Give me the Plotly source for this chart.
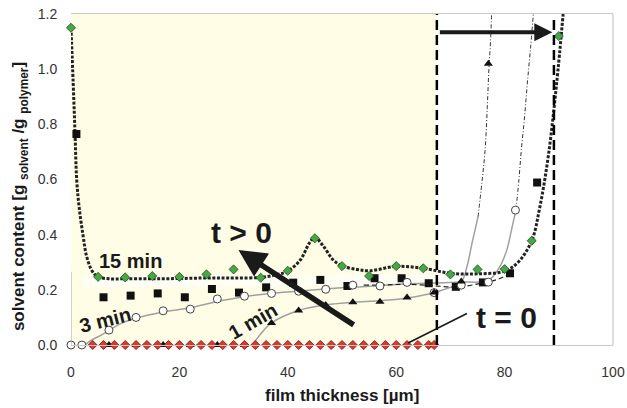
import plotly.graph_objects as go

# ---------------- data ----------------
# t = 0 : red diamonds on the baseline
x_t0 = [4, 6, 8, 10, 12, 14, 16, 18, 20, 22, 24, 26, 28, 30, 32, 34, 36, 38, 40,
        42, 44, 46, 48, 50, 52, 54, 56, 58, 60, 62, 64, 66, 67]
y_t0 = [0, 0, 0, 0, 0, 0, 0, 0, 0, 0, 0, 0, 0, 0, 0, 0, 0, 0, 0,
        0, 0, 0, 0, 0, 0, 0, 0, 0, 0, 0, 0, 0, 0]

# 1 min : black triangles
x_1min = [7, 12, 17, 22, 27, 32, 37, 42, 47, 52, 57, 62, 67, 72, 77]
y_1min = [0, 0, 0, 0, 0, 0, 0.08, 0.125, 0.145, 0.155, 0.157, 0.172, 0.19, 0.23, 1.02]

# 3 min : open circles
x_3min = [0, 2, 7, 12, 17, 22, 27, 32, 37, 42, 47, 52, 57, 62, 67, 72, 77, 82]
y_3min = [0, 0, 0.054, 0.1, 0.124, 0.13, 0.167, 0.177, 0.187, 0.195, 0.202, 0.217,
          0.214, 0.227, 0.19, 0.217, 0.228, 0.489]

# intermediate time : black squares
x_sq = [1, 6, 11, 16, 21, 26, 31, 36, 41, 46, 51, 56, 61, 66, 71, 76, 81, 86]
y_sq = [0.765, 0.173, 0.179, 0.187, 0.173, 0.203, 0.19, 0.209, 0.226, 0.236, 0.214,
        0.242, 0.242, 0.224, 0.211, 0.227, 0.26, 0.589]

# 15 min : green diamonds
x_15min = [0, 5, 10, 15, 20, 25, 30, 35, 40, 45, 50, 55, 60, 65, 70, 75, 80, 85, 90]
y_15min = [1.15, 0.247, 0.245, 0.25, 0.247, 0.256, 0.274, 0.244, 0.269, 0.387, 0.286,
           0.25, 0.286, 0.278, 0.256, 0.274, 0.275, 0.378, 1.12]

# fitted curves
fit15_x = [0, 0.4, 0.74, 1.05, 1.5, 2.2, 2.9, 4, 5, 7, 10, 15, 20, 25, 30, 35, 38, 40,
           42.3, 44, 45, 46.5, 48.4, 50.1, 52.7, 55.1, 60, 65, 70, 75, 80, 82.5, 85,
           86.5, 88.1, 89.6, 90.8]
fit15_y = [1.15, 0.95, 0.77, 0.6, 0.5, 0.4, 0.32, 0.265, 0.247, 0.24, 0.24, 0.24, 0.241,
           0.243, 0.243, 0.245, 0.255, 0.268, 0.308, 0.37, 0.39, 0.36, 0.308, 0.286,
           0.274, 0.269, 0.285, 0.278, 0.26, 0.258, 0.268, 0.3, 0.378, 0.5, 0.69, 0.948, 1.2]

fit3_x = [2.5, 4, 5.5, 7, 9.5, 12, 17, 22, 27, 32, 37, 42, 47, 52, 57, 62, 67, 72, 77,
          79, 80.4, 81.3, 82.1]
fit3_y = [0, 0.02, 0.035, 0.053, 0.08, 0.098, 0.12, 0.135, 0.158, 0.175, 0.188, 0.195,
          0.203, 0.21, 0.215, 0.222, 0.225, 0.228, 0.235, 0.28, 0.344, 0.42, 0.49]
fit3_up_x = [82.1, 82.6, 83.1, 83.7, 84.2, 84.8, 85.3]
fit3_up_y = [0.49, 0.59, 0.71, 0.83, 0.95, 1.08, 1.2]

fit1_x = [33.5, 35, 37, 42, 47, 52, 57, 62, 67, 72, 73, 74, 75.1]
fit1_y = [0, 0.04, 0.08, 0.125, 0.145, 0.155, 0.16, 0.17, 0.19, 0.23, 0.28, 0.37, 0.465]
fit1_up_x = [75.1, 75.8, 76.4, 76.8, 77.1, 77.4, 77.6]
fit1_up_y = [0.465, 0.587, 0.707, 0.86, 1.0, 1.1, 1.2]

fitsq_x = [54, 58, 62, 67, 71, 76, 79, 81]
fitsq_y = [0.217, 0.218, 0.22, 0.215, 0.21, 0.225, 0.24, 0.26]

band_x = [2, 10, 20, 30, 40, 50, 60, 67]
band_y = [0.228, 0.23, 0.23, 0.232, 0.235, 0.235, 0.235, 0.235]

x_ticks = [0, 20, 40, 60, 80, 100]
y_ticks = [0.0, 0.2, 0.4, 0.6, 0.8, 1.0, 1.2]
y_ticklabels = ["0.0", "0.2", "0.4", "0.6", "0.8", "1.0", "1.2"]

# film boundaries (dashed) and shaded region
x_film_t0 = 67.5
x_film_t = 89.1

FONT = "Arial, Liberation Sans, sans-serif"
INK = "#1a1a1a"

fig = go.Figure()

# whitish band behind the curves
fig.add_trace(go.Scatter(x=band_x, y=band_y, mode="lines",
                         line=dict(color="rgba(255,255,255,0.55)", width=11),
                         hoverinfo="skip", showlegend=False))

# fits
fig.add_trace(go.Scatter(x=fit3_x, y=fit3_y, mode="lines",
                         line=dict(color="#a0a0a0", width=1.5, shape="spline"),
                         hoverinfo="skip", showlegend=False))
fig.add_trace(go.Scatter(x=fit3_up_x, y=fit3_up_y, mode="lines",
                         line=dict(color="#333333", width=1, dash="4px,2px,1px,2px", shape="spline"),
                         hoverinfo="skip", showlegend=False))
fig.add_trace(go.Scatter(x=fit1_x, y=fit1_y, mode="lines",
                         line=dict(color="#a0a0a0", width=1.5, shape="spline"),
                         hoverinfo="skip", showlegend=False))
fig.add_trace(go.Scatter(x=fit1_up_x, y=fit1_up_y, mode="lines",
                         line=dict(color="#333333", width=1, dash="4px,2px,1px,2px", shape="spline"),
                         hoverinfo="skip", showlegend=False))
fig.add_trace(go.Scatter(x=fitsq_x, y=fitsq_y, mode="lines",
                         line=dict(color="#222222", width=1.2, dash="5px,3px", shape="spline"),
                         hoverinfo="skip", showlegend=False))
fig.add_trace(go.Scatter(x=fit15_x, y=fit15_y, mode="lines",
                         line=dict(color="#222222", width=3, dash="3px,1.6px", shape="spline"),
                         hoverinfo="skip", showlegend=False))

# markers
fig.add_trace(go.Scatter(x=x_sq, y=y_sq, mode="markers", name="squares",
                         marker=dict(symbol="square", size=8, color="#111111"),
                         cliponaxis=False, showlegend=False))
fig.add_trace(go.Scatter(x=x_3min, y=y_3min, mode="markers", name="3 min",
                         marker=dict(symbol="circle", size=8, color="white",
                                     line=dict(color="#444444", width=1)),
                         cliponaxis=False, showlegend=False))
fig.add_trace(go.Scatter(x=x_1min, y=y_1min, mode="markers", name="1 min",
                         marker=dict(symbol="triangle-up", size=8, color="#111111"),
                         cliponaxis=False, showlegend=False))
fig.add_trace(go.Scatter(x=x_15min, y=y_15min, mode="markers", name="15 min",
                         marker=dict(symbol="diamond", size=7, color="#45a845",
                                     line=dict(color="#1f4f1f", width=0.8)),
                         cliponaxis=False, showlegend=False))
fig.add_trace(go.Scatter(x=x_t0, y=y_t0, mode="markers", name="t = 0",
                         marker=dict(symbol="diamond", size=7, color="#e5352b",
                                     line=dict(color="#6a1810", width=0.8)),
                         cliponaxis=False, showlegend=False))

shapes = [
    # shaded film region
    dict(type="rect", xref="x", yref="y", x0=0, x1=x_film_t0, y0=0, y1=1.2,
         fillcolor="rgb(255,253,230)", line=dict(width=0), layer="below"),
    # frame right and short left segment
    dict(type="line", xref="paper", yref="paper", x0=1, x1=1, y0=0, y1=1,
         line=dict(color="#c8c8c8", width=1.2)),
    dict(type="line", xref="x", yref="y", x0=0, x1=0, y0=0, y1=0.265,
         line=dict(color="#a8a8a8", width=1)),
    # dashed film boundaries
    dict(type="line", xref="x", yref="y", x0=x_film_t0, x1=x_film_t0, y0=0, y1=1.2,
         line=dict(color="black", width=2.5, dash="10px,5px"), layer="above"),
    dict(type="line", xref="x", yref="y", x0=x_film_t, x1=x_film_t, y0=0, y1=1.19,
         line=dict(color="black", width=2.5, dash="10px,5px"), layer="above"),
]

annotations = [
    # horizontal arrow (film growth)
    dict(x=88.8, y=1.134, ax=x_film_t0, ay=1.134, xref="x", yref="y", axref="x", ayref="y",
         showarrow=True, arrowhead=2, arrowsize=0.9, arrowwidth=4, arrowcolor=INK, text=" "),
    # diagonal arrow t > 0
    dict(x=30.9, y=0.344, ax=52.7, ay=0.066, xref="x", yref="y", axref="x", ayref="y",
         showarrow=True, arrowhead=2, arrowsize=1.0, arrowwidth=5.5, arrowcolor=INK, text=" "),
    # pointer line for t = 0
    dict(x=62.2, y=0.007, ax=73.6, ay=0.12, xref="x", yref="y", axref="x", ayref="y",
         showarrow=True, arrowhead=0, arrowwidth=1.6, arrowcolor=INK, text=" "),
    dict(x=31.4, y=0.409, xref="x", yref="y", text="<b>t &gt; 0</b>", showarrow=False,
         font=dict(family=FONT, size=30, color=INK)),
    dict(x=80.3, y=0.098, xref="x", yref="y", text="<b>t = 0</b>", showarrow=False,
         font=dict(family=FONT, size=30, color=INK)),
    dict(x=10.9, y=0.304, xref="x", yref="y", text="<b>15 min</b>", showarrow=False,
         font=dict(family=FONT, size=20, color=INK)),
    dict(x=6.2, y=0.092, xref="x", yref="y", text="<b>3 min</b>", showarrow=False,
         textangle=-14, font=dict(family=FONT, size=20, color=INK)),
    dict(x=33.6, y=0.086, xref="x", yref="y", text="<b>1 min</b>", showarrow=False,
         textangle=-30, font=dict(family=FONT, size=20, color=INK)),
    # axis titles
    dict(x=-0.094, y=0.447, xref="paper", yref="paper", showarrow=False, textangle=-90,
         text="<b>solvent content [g <sub>solvent</sub> /g <sub>polymer</sub>]</b>",
         font=dict(family=FONT, size=17, color=INK), xanchor="center", yanchor="middle"),
    dict(x=0.5, y=-0.154, xref="paper", yref="paper", showarrow=False,
         text="<b>film thickness [µm]</b>",
         font=dict(family=FONT, size=17, color=INK), xanchor="center", yanchor="middle"),
]

fig.update_layout(
    width=627, height=408,
    margin=dict(l=71, r=14, t=14, b=63, autoexpand=False),
    paper_bgcolor="white", plot_bgcolor="white",
    shapes=shapes, annotations=annotations,
    showlegend=False,
    xaxis=dict(range=[0, 100], tickvals=x_ticks, ticktext=[str(v) for v in x_ticks],
               showgrid=False, zeroline=False, showline=True, mirror=True,
               linecolor="#c8c8c8", linewidth=1.2, automargin=False,
               ticks="outside", ticklen=14, tickcolor="rgba(0,0,0,0)",
               tickfont=dict(family=FONT, size=14, color="#333333")),
    yaxis=dict(range=[0, 1.2], tickvals=y_ticks, ticktext=y_ticklabels,
               showgrid=False, zeroline=False, showline=False, automargin=False,
               ticks="outside", ticklen=10, tickcolor="rgba(0,0,0,0)",
               tickfont=dict(family=FONT, size=14, color="#333333")),
)

fig.write_html("out.html",
               config={"displayModeBar": False},
               post_script="document.body.style.margin='0';document.body.style.padding='0';"
                           "document.body.style.overflow='hidden';")
